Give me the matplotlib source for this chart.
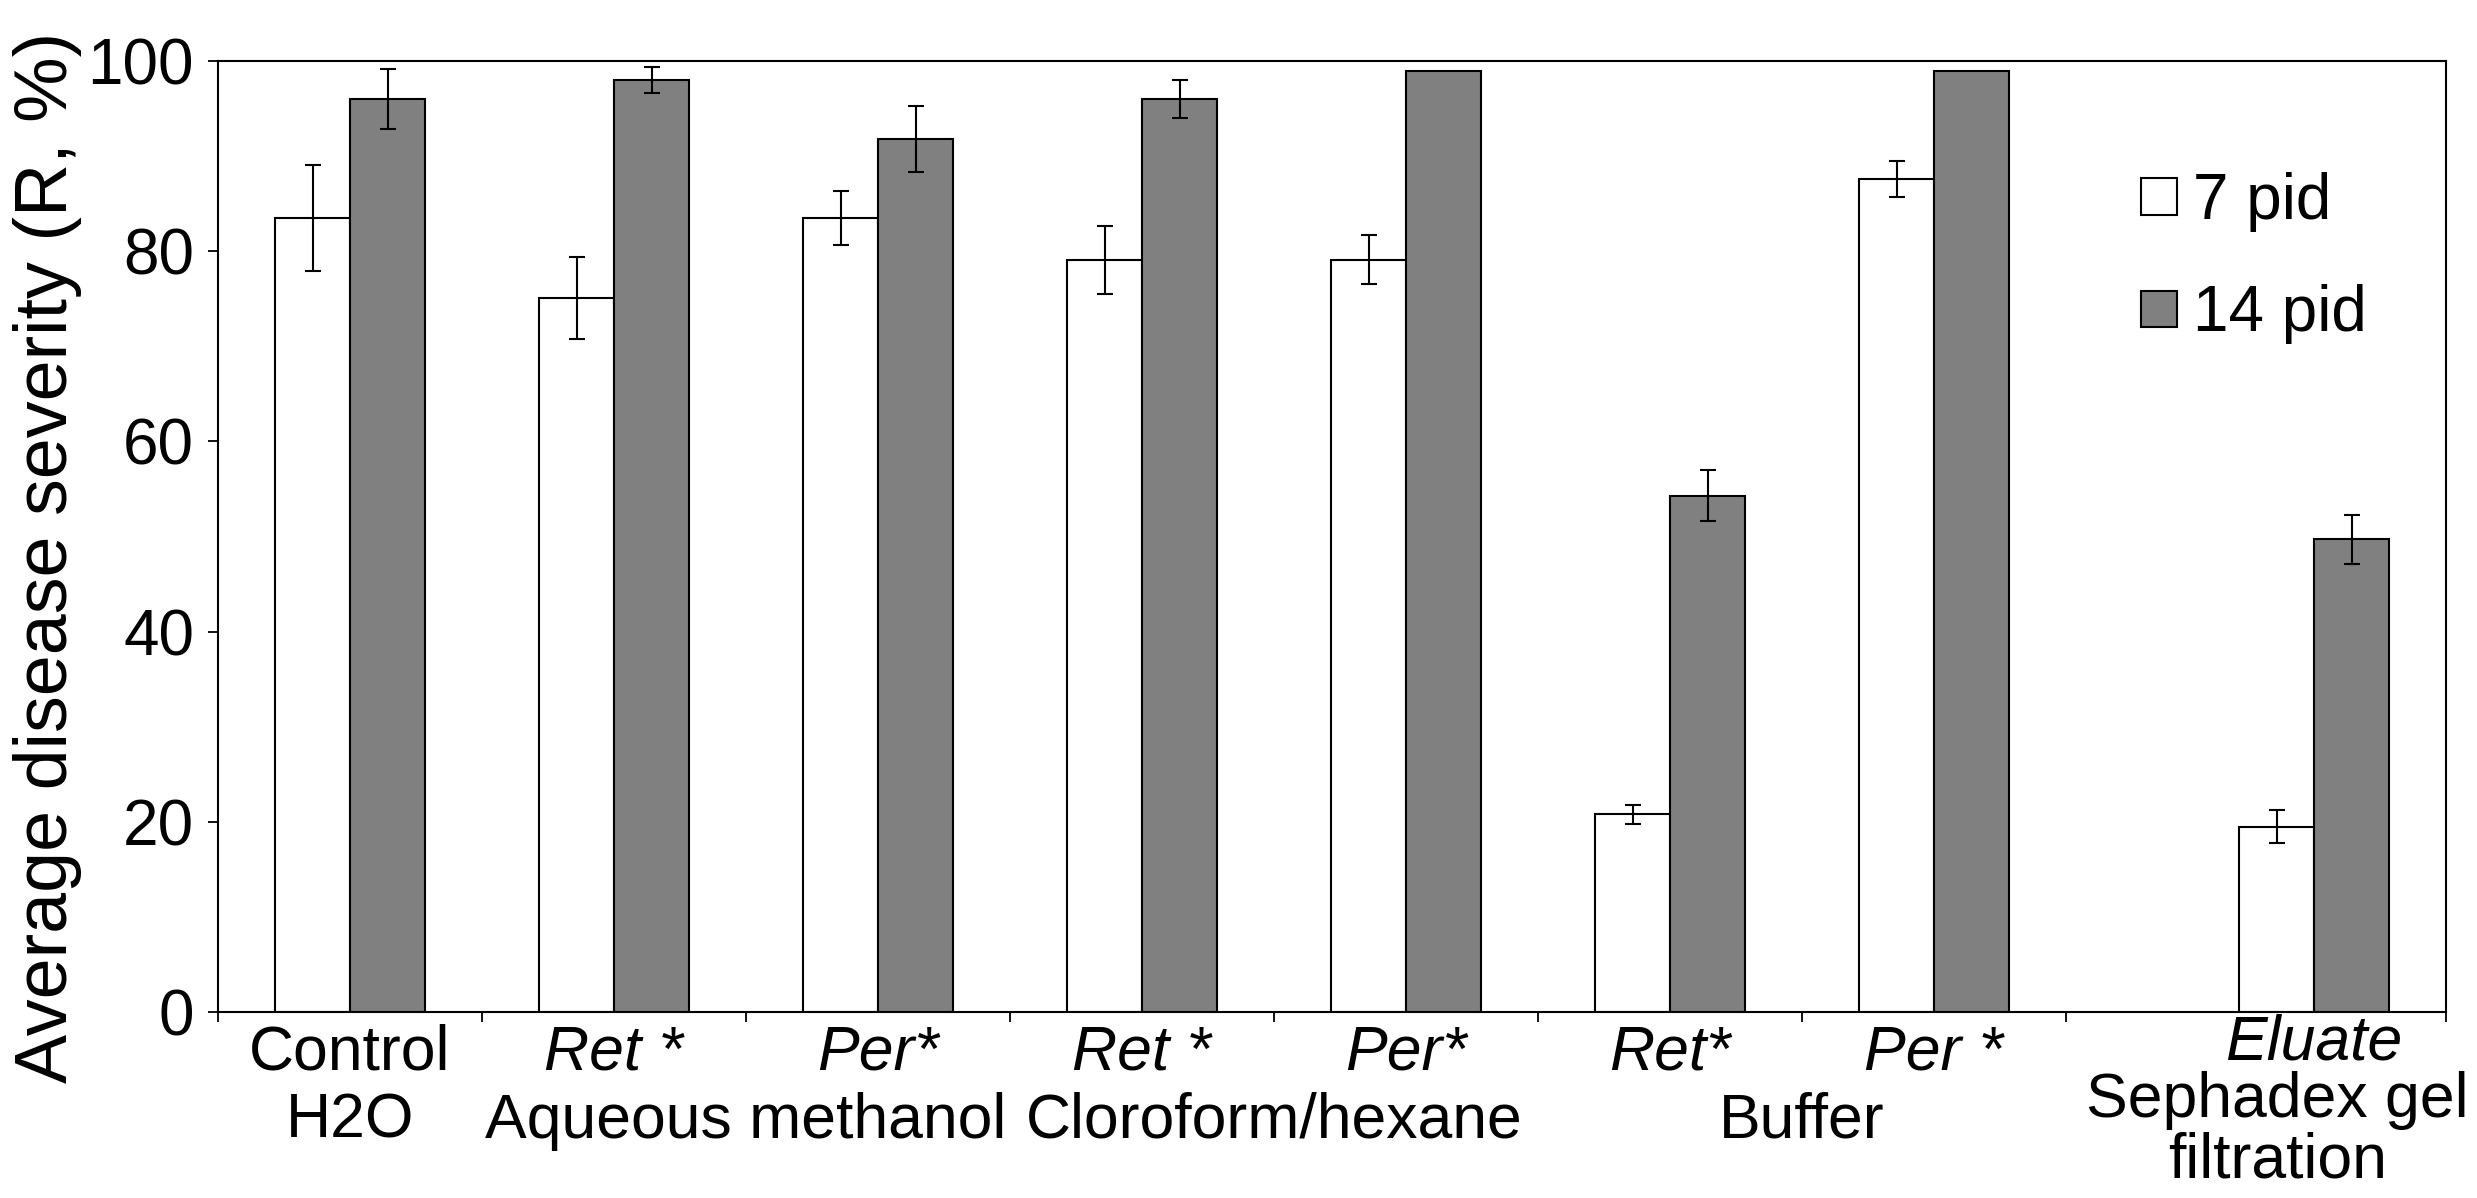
import numpy as np
import matplotlib
matplotlib.use("Agg")
import matplotlib.pyplot as plt
from matplotlib.patches import Patch
from matplotlib import transforms

# ---------------- data ----------------
treatments = ["Control", "Ret *", "Per*", "Ret *", "Per*", "Ret*", "Per *", "Eluate"]
treatment_italic = [False, True, True, True, True, True, True, True]
groups = ["H2O", "Aqueous methanol", "Cloroform/hexane", "Buffer", "Sephadex gel\nfiltration"]
group_members = [[0], [1, 2], [3, 4], [5, 6], [7]]
pid7 = [83.5, 75.1, 83.5, 79.1, 79.1, 20.8, 87.6, 19.5]
pid7_err = [5.6, 4.3, 2.8, 3.6, 2.6, 1.0, 1.85, 1.7]
pid14 = [96.0, 98.0, 91.8, 96.0, 99.0, 54.3, 99.0, 49.7]
pid14_err = [3.2, 1.4, 3.5, 2.0, None, 2.7, None, 2.6]
series_labels = ["7 pid", "14 pid"]
yticks = [0, 20, 40, 60, 80, 100]
ylabel = "Average disease severity (R, %)"

# ---------------- layout ----------------
W, H = 2477, 1198
plt.rcParams["font.family"] = ["Liberation Sans", "DejaVu Sans"]
fig = plt.figure(figsize=(W / 100, H / 100), dpi=100)
L, R, T, B = 218, 2446, 61, 1012
ax = fig.add_axes([L / W, 1 - B / H, (R - L) / W, (B - T) / H])

slot = 264.0
xmax = (R - L) / slot
centers = np.append(np.arange(7) + 0.5, 7.94)
bw = 75 / slot

c7, c14 = "white", "#808080"
ax.bar(centers - bw / 2, pid7, width=bw, color=c7, edgecolor="black", linewidth=1.5, zorder=2)
ax.bar(centers + bw / 2, pid14, width=bw, color=c14, edgecolor="black", linewidth=1.5, zorder=2)

ax.errorbar(centers - bw / 2, pid7, yerr=pid7_err, fmt="none", ecolor="black",
            elinewidth=1.5, capsize=6, capthick=1.5, zorder=3)
idx = [i for i, e in enumerate(pid14_err) if e is not None]
ax.errorbar(centers[idx] + bw / 2, [pid14[i] for i in idx], yerr=[pid14_err[i] for i in idx],
            fmt="none", ecolor="black", elinewidth=1.5, capsize=6, capthick=1.5, zorder=3)

ax.set_xlim(0, xmax)
ax.set_ylim(0, 100)
ax.set_yticks(yticks)
ax.set_xticks(list(np.arange(8)) + [xmax])
ax.set_xticklabels([])
ax.tick_params(axis="both", direction="out", length=7.2, width=1.3, labelsize=46, pad=10)
for s in ax.spines.values():
    s.set_linewidth(1.5)

# y label
fig.text(67 / W, 1 - 557 / H, ylabel, rotation=90, rotation_mode="anchor",
         ha="center", va="baseline", fontsize=53)

# x category labels
tr = transforms.blended_transform_factory(ax.transData, fig.transFigure)
for i, (t, it) in enumerate(zip(treatments, treatment_italic)):
    yb = 1059 if i == 7 else 1070
    ax.text(centers[i], 1 - yb / H, t, transform=tr, ha="center", va="baseline",
            fontsize=45, style="italic" if it else "normal")

group_y = [1138, 1138, 1138, 1138, 1178]   # baseline of last line
group_dx = [0, 0, 0, 0, -0.14]
group_ls = [1.2, 1.2, 1.2, 1.2, 1.05]
for g, mem, yb, dx, ls in zip(groups, group_members, group_y, group_dx, group_ls):
    x = np.mean(centers[mem]) + dx
    ax.text(x, 1 - yb / H, g, transform=tr, ha="center", va="baseline", fontsize=45,
            multialignment="center", linespacing=ls)

# legend
handles = [Patch(facecolor=c7, edgecolor="black", linewidth=1.5),
           Patch(facecolor=c14, edgecolor="black", linewidth=1.5)]
leg = ax.legend(handles, series_labels, loc="upper left", frameon=False, fontsize=46,
                bbox_to_anchor=(2141 / W, 1 - 172 / H), bbox_transform=fig.transFigure,
                borderpad=0, borderaxespad=0, handlelength=0.56, handleheight=0.5,
                handletextpad=0.25, labelspacing=0.82)

fig.savefig("out.png", dpi=100)
